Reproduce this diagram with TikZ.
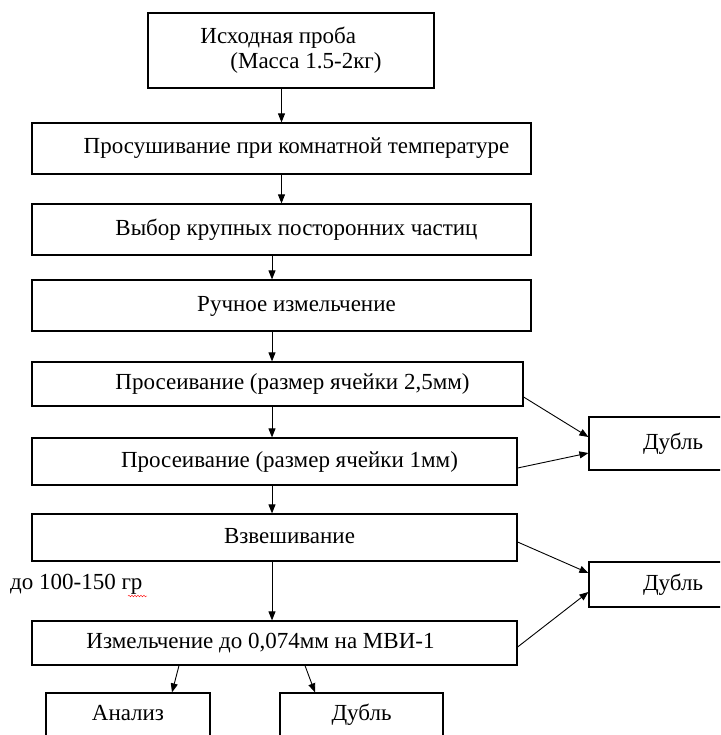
\documentclass[tikz,border=0pt]{standalone}
\usepackage{fontspec}
\setmainfont{Liberation Serif}
\newfontfamily\tnr{Liberation Serif}
\usetikzlibrary{arrows.meta,decorations.pathmorphing}
\begin{document}
\begin{tikzpicture}[x=1pt,y=-1pt,
  box/.style={draw,line width=1.2pt,inner sep=0pt,text height=16pt,text depth=5pt,
    font=\tnr\fontsize{23}{26}\selectfont},
  lbl/.style={inner sep=0pt,font=\tnr\fontsize{23}{26}\selectfont},
  arr/.style={line width=0.9pt,-{Triangle[length=9pt,width=7pt]}}]
\useasboundingbox (0,0) rectangle (720,735);
\clip (0,0) rectangle (720,735);
% main column
\node[draw,line width=1.2pt,inner sep=0pt,font=\tnr\fontsize{23}{25}\selectfont,
  minimum width=286pt,minimum height=75pt,align=left] (b1) at (291,50.5)
  {Исходная проба\\\hspace*{30pt}(Масса 1.5-2кг)};
\node[box,minimum width=499pt,minimum height=51pt] (b2) at (281.5,148.5)
  {\hspace*{30pt}Просушивание при комнатной температуре};
\node[box,minimum width=499pt,minimum height=51pt] (b3) at (281.5,229.5)
  {\hspace*{30pt}Выбор крупных посторонних частиц};
\node[box,minimum width=499pt,minimum height=51pt] (b4) at (281.5,305.5)
  {\hspace*{30pt}Ручное измельчение};
\node[box,minimum width=491pt,minimum height=44pt] (b5) at (277.5,384)
  {\hspace*{30pt}Просеивание (размер ячейки 2,5мм)};
\node[box,minimum width=485pt,minimum height=47pt] (b6) at (274.5,461.5)
  {\hspace*{30pt}Просеивание (размер ячейки 1мм)};
\node[box,minimum width=485pt,minimum height=47pt] (b7) at (274.5,537.5)
  {\hspace*{30pt}Взвешивание};
\node[box,minimum width=485pt,minimum height=44pt] (b8) at (274.5,643)
  {Измельчение до 0,074мм на МВИ-1\hspace*{28pt}};
% side and bottom boxes
\node[box,minimum width=168pt,minimum height=53pt] (d1) at (673,443.5) {Дубль};
\node[box,minimum width=168pt,minimum height=45pt] (d2) at (673,584.5) {Дубль};
\node[box,minimum width=164pt,minimum height=44pt] (an) at (128,715) {Анализ};
\node[box,minimum width=163pt,minimum height=44pt] (d3) at (361.5,715) {Дубль};
\node[lbl,anchor=west] (m) at (10,584) {до 100-150 гр};
\draw[red,decorate,decoration={snake,amplitude=0.8pt,segment length=3pt}]
  (128,596) -- (147,596);
% arrows
\coordinate (c) at (272,0);
\draw[arr] (b1.south -| b2.north) -- (b2.north);
\draw[arr] (b2) -- (b3);
\draw[arr] (b3.south -| c) -- (b4.north -| c);
\draw[arr] (b4.south -| c) -- (b5.north -| c);
\draw[arr] (b5.south -| c) -- (b6.north -| c);
\draw[arr] (b6.south -| c) -- (b7.north -| c);
\draw[arr] (b7.south -| c) -- (b8.north -| c);
\draw[arr] ([yshift=-13pt]b5.east) -- ([yshift=6.5pt]d1.west);
\draw[arr] ([yshift=-6.5pt]b6.east) -- ([yshift=-9.5pt]d1.west);
\draw[arr] ([yshift=-4.5pt]b7.east) -- ([yshift=11.5pt]d2.west);
\draw[arr] ([yshift=-4pt]b8.east) -- ([yshift=-7.5pt]d2.west);
\draw[arr] ([xshift=-95.5pt]b8.south) -- ([xshift=44pt]an.north);
\draw[arr] ([xshift=30.5pt]b8.south) -- ([xshift=-46.5pt]d3.north);
\end{tikzpicture}
\end{document}
